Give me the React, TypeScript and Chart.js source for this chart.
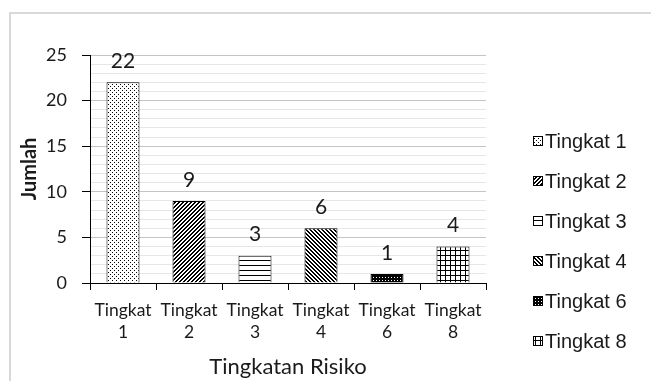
import React, { useEffect, useRef } from "react";
import { Chart, registerables } from "chart.js";

Chart.register(...registerables);

const categories = ["Tingkat 1", "Tingkat 2", "Tingkat 3", "Tingkat 4", "Tingkat 6", "Tingkat 8"];
const values = [22, 9, 3, 6, 1, 4];
const yTickValues = [0, 5, 10, 15, 20, 25];
const xTitle = "Tingkatan Risiko";
const yTitle = "Jumlah";

type Painter = (x: CanvasRenderingContext2D) => void;

function makePattern(ctx: CanvasRenderingContext2D, w: number, h: number, draw: Painter) {
  const c = document.createElement("canvas");
  c.width = w;
  c.height = h;
  const x = c.getContext("2d")!;
  x.fillStyle = "#ffffff";
  x.fillRect(0, 0, w, h);
  x.fillStyle = "#000000";
  draw(x);
  return ctx.createPattern(c, "repeat")!;
}

function pixelPattern(ctx: CanvasRenderingContext2D, w: number, h: number, test: (x: number, y: number) => boolean) {
  return makePattern(ctx, w, h, (p) => {
    for (let yy = 0; yy < h; yy++) for (let xx = 0; xx < w; xx++) if (test(xx, yy)) p.fillRect(xx, yy, 1, 1);
  });
}

function buildPatterns(ctx: CanvasRenderingContext2D) {
  return [
    pixelPattern(ctx, 4, 4, (x, y) => (x === 0 && y === 0) || (x === 2 && y === 2)),
    pixelPattern(ctx, 4, 4, (x, y) => (x + y) % 4 < 2),
    pixelPattern(ctx, 1, 5, (_x, y) => y === 0),
    pixelPattern(ctx, 4, 4, (x, y) => (x - y + 8) % 4 < 2),
    pixelPattern(ctx, 3, 3, (x, y) => !(x === 1 && y === 1)),
    pixelPattern(ctx, 5, 5, (x, y) => x === 0 || y === 0),
  ];
}

const TEXT = "#1a1a1a";

export default function App() {
  const ref = useRef<HTMLCanvasElement | null>(null);

  useEffect(() => {
    const canvas = ref.current!;
    const ctx = canvas.getContext("2d")!;
    const patterns = buildPatterns(ctx);

    const valueLabels = {
      id: "valueLabels",
      afterDatasetsDraw(chart: any) {
        const c = chart.ctx;
        const meta = chart.getDatasetMeta(0);
        c.save();
        c.font = "21px Lato";
        c.fillStyle = TEXT;
        c.textAlign = "center";
        c.textBaseline = "middle";
        meta.data.forEach((el: any, i: number) => {
          c.fillText(String(values[i]), el.x, el.y - 21);
        });
        c.restore();
      },
    };

    const sideLegend = {
      id: "sideLegend",
      afterDraw(chart: any) {
        const c = chart.ctx;
        c.save();
        c.font = "20px 'Liberation Sans', Arial, sans-serif";
        c.textBaseline = "middle";
        c.textAlign = "left";
        categories.forEach((label, i) => {
          const cy = 141 + i * 40;
          const bx = 533;
          c.fillStyle = patterns[i];
          c.fillRect(bx, cy - 5, 10, 10);
          c.strokeStyle = "#000";
          c.lineWidth = 1;
          c.strokeRect(bx + 0.5, cy - 4.5, 9, 9);
          c.fillStyle = TEXT;
          c.fillText(label, bx + 12, cy + 1);
        });
        c.restore();
      },
    };

    const chart = new Chart(ctx, {
      type: "bar",
      data: {
        labels: categories.map((c) => c.split(" ")),
        datasets: [
          {
            data: values,
            backgroundColor: patterns as any,
            borderColor: "#000000",
            borderWidth: 1,
            categoryPercentage: 1,
            barPercentage: 0.5,
          },
        ],
      },
      options: {
        responsive: false,
        animation: false,
        layout: { padding: { left: 0, right: 165, top: 55, bottom: 0 } },
        plugins: { legend: { display: false }, tooltip: { enabled: false } },
        scales: {
          x: {
            afterFit: (s: any) => {
              s.height = 98;
            },
            border: { display: true, color: "#000000", width: 1 },
            grid: {
              offset: true,
              drawOnChartArea: false,
              drawTicks: true,
              tickLength: 7,
              tickColor: "#000000",
            },
            ticks: {
              color: TEXT,
              font: { family: "Lato", size: 17.5, lineHeight: 1.28 },
              padding: 9,
              maxRotation: 0,
              autoSkip: false,
            },
            title: {
              display: true,
              text: xTitle,
              color: TEXT,
              font: { family: "Lato", size: 22, lineHeight: 1.2 },
              padding: { top: 0, bottom: 1 },
            },
          },
          y: {
            min: 0,
            max: 25,
            afterFit: (s: any) => {
              s.width = 90;
            },
            border: { display: true, color: "#000000", width: 1 },
            grid: {
              color: (c: any) => (yTickValues.includes(c.tick?.value) ? "#c4c4c4" : "#e6e6e6"),
              tickColor: (c: any) => (yTickValues.includes(c.tick?.value) ? "#000000" : "rgba(0,0,0,0)"),
              tickLength: 8,
            },
            ticks: {
              stepSize: 1,
              autoSkip: false,
              padding: 15,
              color: TEXT,
              font: { family: "Lato", size: 18 },
              callback: (v: any) => (yTickValues.includes(Number(v)) ? String(v) : ""),
            },
            title: {
              display: true,
              text: yTitle,
              color: TEXT,
              font: { family: "Lato", size: 20, weight: "bold", lineHeight: 1.2 },
              padding: { top: 18, bottom: 0 },
            },
          },
        },
      },
      plugins: [valueLabels, sideLegend],
    });

    return () => chart.destroy();
  }, []);

  return (
    <div style={{ position: "absolute", left: 0, top: 0, width: 651, height: 381, overflow: "hidden", background: "#fff" }}>
      <div
        style={{
          position: "absolute",
          left: 9,
          top: 12,
          right: -10,
          bottom: -10,
          border: "2px solid #d9d9d9",
        }}
      />
      <canvas ref={ref} width={651} height={381} style={{ position: "absolute", left: 0, top: 0, display: "block" }} />
    </div>
  );
}
